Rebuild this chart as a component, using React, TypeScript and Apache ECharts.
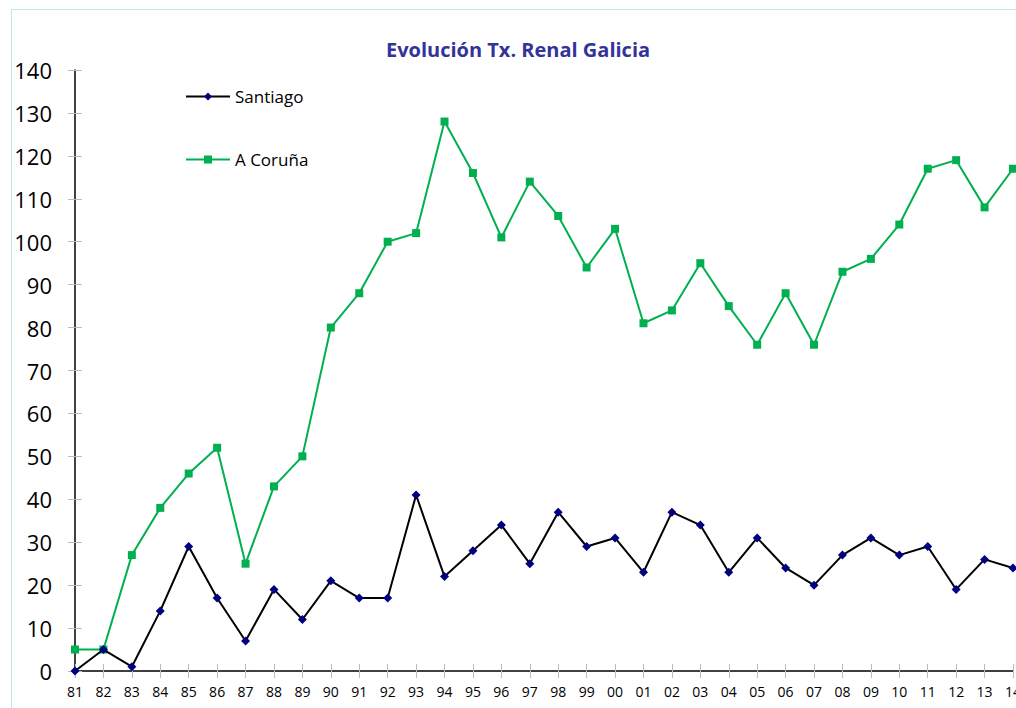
import React, { useEffect, useRef } from "react";
import * as echarts from "echarts";

const years = ["81","82","83","84","85","86","87","88","89","90","91","92","93","94","95","96","97","98","99","00","01","02","03","04","05","06","07","08","09","10","11","12","13","14"];
const santiago = [0,5,1,14,29,17,7,19,12,21,17,17,41,22,28,34,25,37,29,31,23,37,34,23,31,24,20,27,31,27,29,19,26,24];
const coruna = [5,5,27,38,46,52,25,43,50,80,88,100,102,128,116,101,114,106,94,103,81,84,95,85,76,88,76,93,96,104,117,119,108,117];
const yTicks = [0,10,20,30,40,50,60,70,80,90,100,110,120,130,140];

export default function App() {
  const ref = useRef<HTMLDivElement>(null);
  useEffect(() => {
    document.body.style.margin = "0";
    const chart = echarts.init(ref.current!, null, { renderer: "svg" });
    const font = "'Open Sans', 'Noto Sans', sans-serif";
    chart.setOption({
      animation: false,
      backgroundColor: "#ffffff",
      textStyle: { fontFamily: font },
      title: {
        text: "Evolución Tx. Renal Galicia",
        left: 513,
        textAlign: "center",
        top: 34,
        textStyle: { color: "#333399", fontSize: 20, fontWeight: "bold", fontFamily: font },
      },
      graphic: [
        {
          type: "rect",
          shape: { x: 11.5, y: 9.5, width: 1100, height: 800 },
          style: { fill: "none", stroke: "#bde9e4", lineWidth: 1 },
          silent: true,
          z: -10,
        },
      ],
      legend: {
        orient: "vertical",
        left: 180,
        top: 83,
        itemGap: 46,
        itemWidth: 44,
        itemHeight: 10,
        textStyle: { fontSize: 17, color: "#000", fontFamily: font },
        data: ["Santiago", "A Coruña"],
      },
      grid: { left: 75, right: 3, top: 70, bottom: 37, containLabel: false, outerBoundsMode: "none" },
      xAxis: [
        {
          type: "category",
          data: years,
          boundaryGap: false,
          axisLine: { lineStyle: { color: "#000", width: 1.5 } },
          axisTick: { show: true, alignWithLabel: true, length: 7, lineStyle: { color: "#bbb" } },
          axisLabel: { color: "#000", fontSize: 14, margin: 13, interval: 0, fontFamily: font },
          splitLine: { show: false },
        },
        {
          type: "category",
          data: years,
          boundaryGap: false,
          position: "bottom",
          axisLine: { show: false },
          axisTick: { show: true, inside: true, length: 7, lineStyle: { color: "#bbb" } },
          axisLabel: { show: false },
          splitLine: { show: false },
        },
      ],
      yAxis: [
        {
          type: "value",
          min: 0,
          max: 140,
          interval: 10,
          axisLine: { show: true, lineStyle: { color: "#000", width: 1.5 } },
          axisTick: { show: true, length: 7, lineStyle: { color: "#bbb" } },
          axisLabel: { color: "#000", fontSize: 22, margin: 23, fontFamily: font },
          splitLine: { show: false },
        },
        {
          type: "value",
          min: 0,
          max: 140,
          interval: 10,
          position: "left",
          axisLine: { show: false },
          axisTick: { show: true, inside: true, length: 7, lineStyle: { color: "#bbb" } },
          axisLabel: { show: false },
          splitLine: { show: false },
        },
      ],
      series: [
        {
          name: "Santiago",
          type: "line",
          data: santiago,
          symbol: "diamond",
          symbolSize: 9,
          itemStyle: { color: "#000080" },
          lineStyle: { color: "#000000", width: 2 },
          z: 3,
        },
        {
          name: "A Coruña",
          type: "line",
          data: coruna,
          symbol: "rect",
          symbolSize: 8,
          itemStyle: { color: "#00b050" },
          lineStyle: { color: "#00b050", width: 2 },
          z: 2,
        },
      ],
    });
    return () => chart.dispose();
  }, []);
  return <div ref={ref} style={{ position: "absolute", left: 0, top: 0, width: 1016, height: 708 }} />;
}
